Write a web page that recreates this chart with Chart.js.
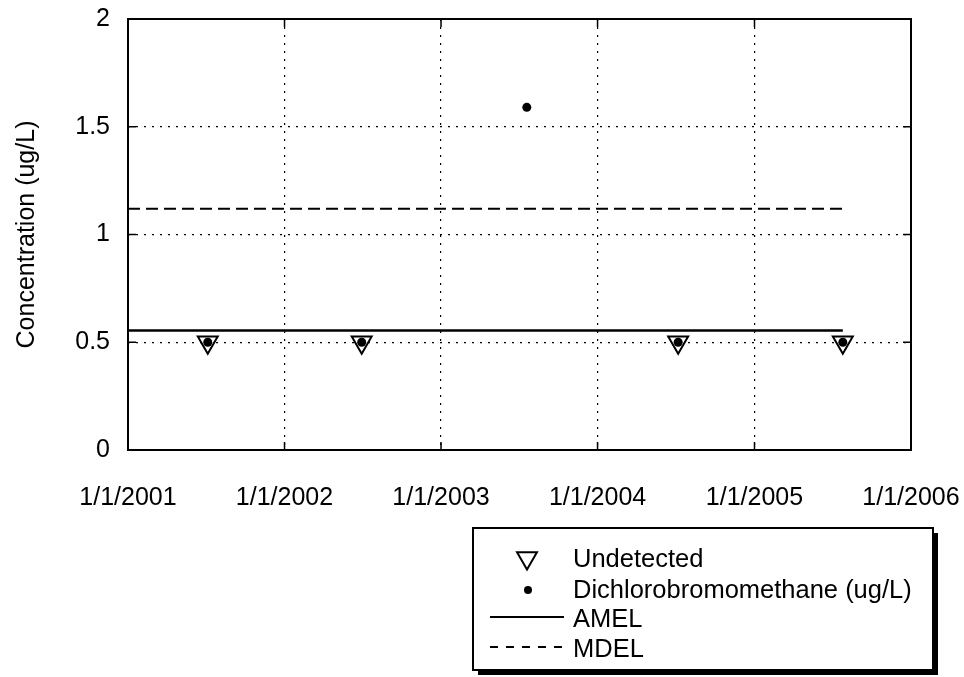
<!DOCTYPE html>
<html>
<head>
<meta charset="utf-8">
<script src="https://cdn.jsdelivr.net/npm/chart.js@4/dist/chart.umd.min.js"></script>
<style>
  body { margin: 0; background: #fff; }
  #wrap { width: 964px; height: 677px; position: relative; }
</style>
</head>
<body>
<div id="wrap"><canvas id="concChart"></canvas></div>
<script>
// values
const undetectedDates = ['2001-07-06', '2002-06-30', '2004-07-07', '2005-07-26'];
const undetectedValues = [0.5, 0.5, 0.5, 0.5];
const sampleDates = ['2001-07-06', '2002-06-30', '2003-07-20', '2004-07-07', '2005-07-26'];
const sampleValues = [0.5, 0.5, 1.59, 0.5, 0.5];
const limitDates = ['2001-01-01', '2005-07-26'];
const amelValues = [0.555, 0.555];
const mdelValues = [1.12, 1.12];
const yearTicks = [2001, 2002, 2003, 2004, 2005, 2006];
const yTicks = [0, 0.5, 1, 1.5, 2];
const legendLabels = ['Undetected', 'Dichlorobromomethane (ug/L)', 'AMEL', 'MDEL'];

const FONT = 'Liberation Sans';

function toPoints(dates, values) {
    return dates.map((d, i) => ({ x: new Date(d).getTime(), y: values[i] }));
}

// plot frame with small inner tick marks
const framePlugin = {
    id: 'frame',
    beforeDatasetsDraw(chart) {
        const { ctx, chartArea: a, scales } = chart;
        ctx.save();
        ctx.strokeStyle = '#000';
        ctx.lineWidth = 1.5;
        ctx.beginPath();
        yearTicks.forEach(y => {
            const px = scales.x.getPixelForValue(Date.UTC(y, 0, 1));
            ctx.moveTo(px, a.bottom); ctx.lineTo(px, a.bottom - 8);
            ctx.moveTo(px, a.top); ctx.lineTo(px, a.top + 8);
        });
        yTicks.forEach(v => {
            const py = scales.y.getPixelForValue(v);
            ctx.moveTo(a.left, py); ctx.lineTo(a.left + 8, py);
            ctx.moveTo(a.right, py); ctx.lineTo(a.right - 8, py);
        });
        ctx.stroke();
        ctx.lineWidth = 2;
        ctx.strokeRect(a.left, a.top, a.right - a.left, a.bottom - a.top);
        ctx.restore();
    }
};

// boxed legend under the plot, bottom right
const boxLegend = {
    id: 'boxLegend',
    afterDraw(chart) {
        const ctx = chart.ctx;
        const bx = 473, by = 528, bw = 460, bh = 142;
        ctx.save();
        ctx.fillStyle = '#000';
        ctx.fillRect(bx + 5, by + 5, bw, bh);
        ctx.fillStyle = '#fff';
        ctx.fillRect(bx, by, bw, bh);
        ctx.strokeStyle = '#000';
        ctx.lineWidth = 2;
        ctx.strokeRect(bx, by, bw, bh);

        const textX = 573;
        const baselines = [567, 598, 627, 657];

        Chart.helpers.drawPoint(ctx, {
            pointStyle: 'triangle', rotation: 180, radius: 11.5, borderWidth: 1.5
        }, 527, 558);
        ctx.fillStyle = '#000';
        ctx.beginPath();
        ctx.arc(528, 590, 4, 0, Math.PI * 2);
        ctx.fill();

        ctx.lineWidth = 2;
        ctx.beginPath();
        ctx.moveTo(490, 617); ctx.lineTo(564, 617);
        ctx.stroke();
        ctx.setLineDash([8, 8]);
        ctx.beginPath();
        ctx.moveTo(490, 647); ctx.lineTo(566, 647);
        ctx.stroke();
        ctx.setLineDash([]);

        ctx.font = '25.5px "' + FONT + '"';
        ctx.textBaseline = 'alphabetic';
        ctx.textAlign = 'left';
        ctx.fillStyle = '#000';
        legendLabels.forEach((t, i) => ctx.fillText(t, textX, baselines[i]));
        ctx.restore();
    }
};

const chart = new Chart(document.getElementById('concChart'), {
    type: 'scatter',
    data: {
        datasets: [{
            label: legendLabels[1],
            data: toPoints(sampleDates, sampleValues),
            pointStyle: 'circle',
            pointRadius: 4.5,
            pointBackgroundColor: '#000',
            pointBorderWidth: 0,
            order: 0
        }, {
            label: legendLabels[0],
            data: toPoints(undetectedDates, undetectedValues),
            pointStyle: 'triangle',
            rotation: 180,
            pointRadius: 11.5,
            pointBackgroundColor: '#fff',
            pointBorderColor: '#000',
            pointBorderWidth: 2,
            order: 1
        }, {
            label: legendLabels[2],
            data: toPoints(limitDates, amelValues),
            showLine: true,
            borderColor: '#000',
            borderWidth: 2.5,
            pointRadius: 0,
            order: 2
        }, {
            label: legendLabels[3],
            data: toPoints(limitDates, mdelValues),
            showLine: true,
            borderColor: '#000',
            borderWidth: 2,
            borderDash: [12, 6],
            pointRadius: 0,
            order: 3
        }]
    },
    options: {
        responsive: true,
        maintainAspectRatio: false,
        animation: false,
        layout: { padding: { left: 0, top: 19, right: 53, bottom: 0 } },
        plugins: {
            legend: { display: false },
            tooltip: { enabled: false }
        },
        scales: {
            x: {
                type: 'linear',
                min: Date.UTC(yearTicks[0], 0, 1),
                max: Date.UTC(yearTicks[yearTicks.length - 1], 0, 1),
                afterBuildTicks: scale => {
                    scale.ticks = yearTicks.map(y => ({ value: Date.UTC(y, 0, 1) }));
                },
                afterFit: scale => {
                    scale.height = 227;
                    scale.paddingLeft = 0;
                    scale.paddingRight = 0;
                },
                grid: { color: '#000', lineWidth: 1.2, drawTicks: false },
                border: { display: false, dash: [2, 6] },
                ticks: {
                    color: '#000',
                    font: { family: FONT, size: 25 },
                    padding: 33,
                    maxRotation: 0,
                    autoSkip: false,
                    callback: v => '1/1/' + new Date(v).getUTCFullYear()
                }
            },
            y: {
                min: 0,
                max: 2,
                afterBuildTicks: scale => {
                    scale.ticks = yTicks.map(v => ({ value: v }));
                },
                afterFit: scale => {
                    scale.width = 128;
                    scale.paddingTop = 0;
                    scale.paddingBottom = 0;
                },
                grid: { color: '#000', lineWidth: 1.2, drawTicks: false },
                border: { display: false, dash: [2, 6] },
                title: {
                    display: true,
                    text: 'Concentration (ug/L)',
                    color: '#000',
                    font: { family: FONT, size: 25 },
                    padding: { top: 12, bottom: 0 }
                },
                ticks: {
                    color: '#000',
                    font: { family: FONT, size: 25 },
                    padding: 18,
                    callback: v => String(v)
                }
            }
        }
    },
    plugins: [framePlugin, boxLegend]
});
</script>
</body>
</html>
